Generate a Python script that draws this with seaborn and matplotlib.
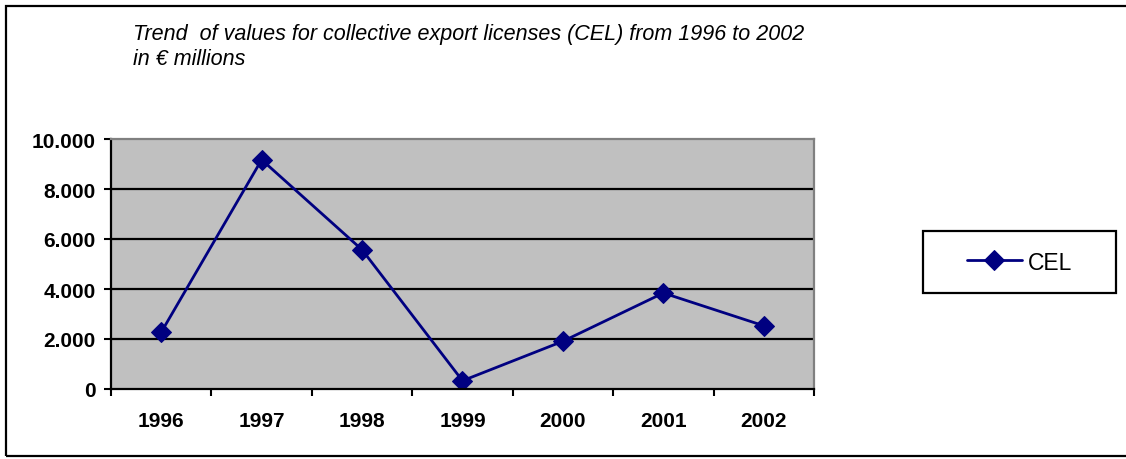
import matplotlib
matplotlib.use("Agg")
import matplotlib.pyplot as plt
from matplotlib.patches import Rectangle
from matplotlib.ticker import FixedLocator, FuncFormatter
import seaborn as sns
import pandas as pd

# Collective export licences (CEL), values in EUR millions
years = ["1996", "1997", "1998", "1999", "2000", "2001", "2002"]
cel_values = [2270, 9170, 5570, 330, 1910, 3840, 2530]
series_name = "CEL"
y_ticks = [0, 2000, 4000, 6000, 8000, 10000]
title_lines = ["Trend  of values for collective export licenses (CEL) from 1996 to 2002",
               "in \u20ac millions"]

sns.set_theme(style="white")
plt.rcParams["font.family"] = ["Liberation Sans", "DejaVu Sans"]
plt.rcParams["text.color"] = "black"
plt.rcParams["xtick.labelcolor"] = "black"
plt.rcParams["ytick.labelcolor"] = "black"

W, H = 1126, 460
fig = plt.figure(figsize=(W / 100, H / 100), dpi=100)
fig.patch.set_facecolor("white")

# plot area in pixel coordinates
x0, x1, y_top, y_bot = 111, 814, 140, 390
ax = fig.add_axes([x0 / W, (H - y_bot) / H, (x1 - x0) / W, (y_bot - y_top) / H])
ax.set_facecolor("#C0C0C0")

df = pd.DataFrame({"year": years, "value": cel_values})
df["pos"] = range(len(years))

sns.lineplot(data=df, x="pos", y="value", ax=ax, color="#000080", linewidth=2,
             marker="D", markersize=10, markeredgecolor="#000080",
             markerfacecolor="#000080", label=series_name, legend=False)

ax.set_xlim(-0.5, len(years) - 0.5)
ax.set_ylim(y_ticks[0], y_ticks[-1])

# horizontal gridlines
for v in y_ticks[1:-1]:
    ax.axhline(v, color="black", linewidth=1.6, zorder=1)

# y axis
ax.yaxis.set_major_locator(FixedLocator(y_ticks))
ax.yaxis.set_major_formatter(FuncFormatter(lambda v, p: f"{int(v):,}".replace(",", ".")))
ax.tick_params(axis="y", which="major", direction="out", length=5, width=1.5,
               color="black", pad=6, labelsize=15, left=True)

# x axis: tick marks on category boundaries, labels centred
ax.xaxis.set_major_locator(FixedLocator([i - 0.5 for i in range(len(years) + 1)]))
ax.xaxis.set_major_formatter(FuncFormatter(lambda v, p: ""))
ax.xaxis.set_minor_locator(FixedLocator(list(range(len(years)))))
ax.set_xticklabels(years, minor=True)
ax.tick_params(axis="x", which="major", direction="out", length=5, width=1.5,
               color="black", bottom=True)
ax.tick_params(axis="x", which="minor", length=0, pad=15.5, labelsize=15)

for lbl in ax.get_yticklabels() + ax.get_xticklabels(minor=True):
    lbl.set_fontweight("bold")
    lbl.set_color("black")

ax.set_xlabel("")
ax.set_ylabel("")

for side in ("left", "bottom"):
    ax.spines[side].set_color("black")
    ax.spines[side].set_linewidth(1.6)
for side in ("top", "right"):
    ax.spines[side].set_color("#808080")
    ax.spines[side].set_linewidth(1.6)

# title, two lines
for line, base in zip(title_lines, (40, 65)):
    fig.text(133 / W, 1 - base / H, line, fontsize=15.5, style="italic",
             ha="left", va="baseline", color="black")

# legend box
lx0, lx1, ly0, ly1 = 923, 1116, 232, 294
fig.patches.append(Rectangle((lx0 / W, 1 - ly1 / H), (lx1 - lx0) / W, (ly1 - ly0) / H,
                             transform=fig.transFigure, fill=False,
                             edgecolor="black", linewidth=1.6))
handles, labels = ax.get_legend_handles_labels()
fig.legend(handles, labels, loc="center",
           bbox_to_anchor=((lx0 + lx1) / 2 / W, 1 - (ly0 + ly1) / 2 / H),
           frameon=False, fontsize=16.5, handlelength=2.4, handletextpad=0.25,
           borderpad=0, labelcolor="black")

# outer chart border
fig.patches.append(Rectangle((6 / W, 1 - 457 / H), 1.2, (457 - 7) / H,
                             transform=fig.transFigure, fill=False,
                             edgecolor="black", linewidth=1.6))

fig.savefig("out.png", dpi=100)
